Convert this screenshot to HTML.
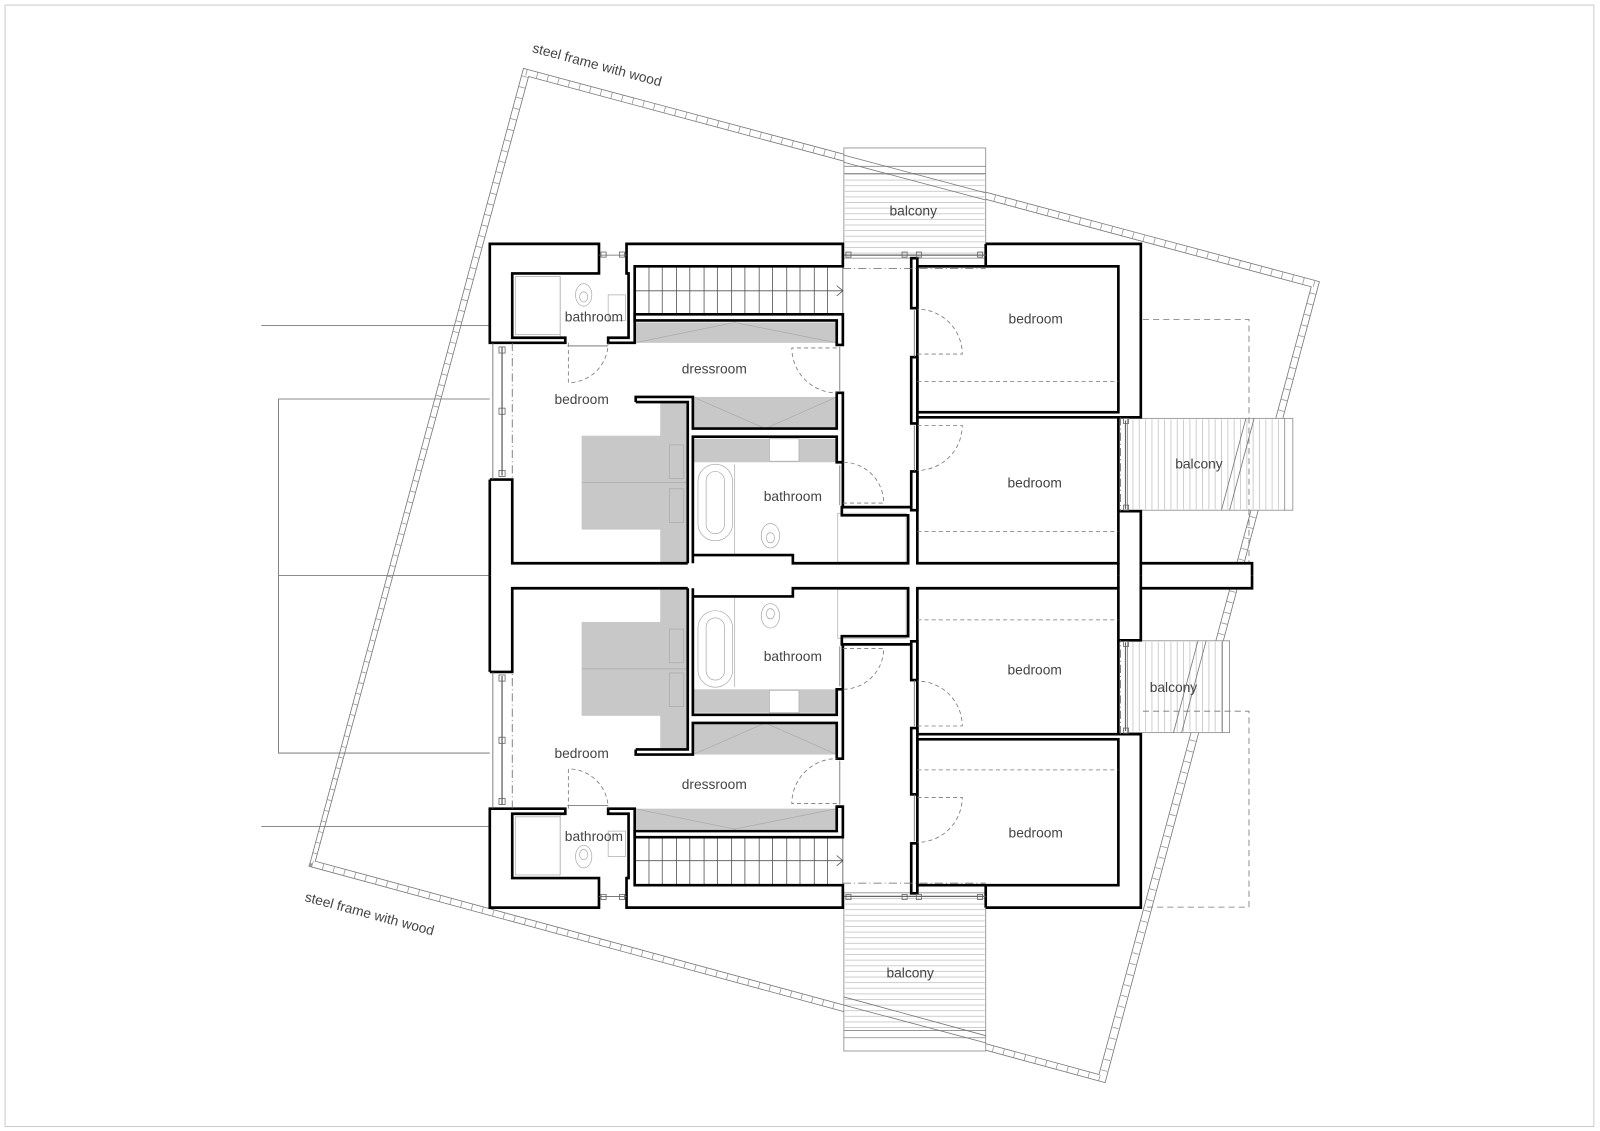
<!DOCTYPE html>
<html><head><meta charset="utf-8"><style>
html,body{margin:0;padding:0;background:#fff;}
svg{display:block;}
text{font-family:"Liberation Sans",sans-serif;font-size:13.5px;fill:#444;}
</style></head><body>
<svg width="1600" height="1131" viewBox="0 0 1568 1108.4" preserveAspectRatio="none" xmlns="http://www.w3.org/2000/svg">
<defs>
<pattern id="hh" width="10" height="5.5" patternUnits="userSpaceOnUse"><line x1="0" y1="0.5" x2="10" y2="0.5" stroke="#bbb" stroke-width="0.7"/></pattern>
<pattern id="vh" width="6.2" height="10" patternUnits="userSpaceOnUse"><line x1="0.5" y1="0" x2="0.5" y2="10" stroke="#bbb" stroke-width="0.7"/></pattern>
</defs>
<rect x="5" y="5" width="1557" height="1099" fill="none" stroke="#ccc" stroke-width="1"/>

<g stroke="#666" stroke-width="0.8" fill="none">
<line x1="256" y1="319" x2="480" y2="319"/>
<line x1="256" y1="810" x2="480" y2="810"/>
<path d="M480,391 H273 V738 H480"/>
<line x1="273" y1="564" x2="480" y2="564"/>
</g>

<g fill="none" stroke="#777" stroke-width="0.8">
<polygon points="513,67 1293,276 1083,1061 303,849"/>
<polygon points="518,75 1285,281 1077,1053 309,844"/>
<polygon points="515.5,71 1289,278.5 1080,1057 306,846.5" stroke="#999" stroke-width="6" stroke-dasharray="0.8 10"/>
</g>

<g stroke="#888" stroke-width="0.8">
<rect x="827" y="145" width="139" height="108" fill="#fff"/>
<rect x="828" y="170" width="137" height="83" fill="url(#hh)" stroke="none"/>
<line x1="827" y1="163" x2="966" y2="163"/><line x1="827" y1="170" x2="966" y2="170"/>
<rect x="827" y="875" width="139" height="155" fill="#fff"/>
<rect x="828" y="876" width="137" height="134" fill="url(#hh)" stroke="none"/>
<line x1="827" y1="1010" x2="966" y2="1010"/><line x1="827" y1="1017" x2="966" y2="1017"/>
<rect x="1105" y="410" width="162" height="90" fill="#fff"/>
<rect x="1106" y="411" width="152" height="88" fill="url(#vh)" stroke="none"/>
<line x1="1259" y1="410" x2="1259" y2="500"/>
<rect x="1105" y="628" width="100" height="90" fill="#fff"/>
<rect x="1106" y="629" width="92" height="88" fill="url(#vh)" stroke="none"/>
<line x1="1198" y1="628" x2="1198" y2="718"/>
</g>
<g fill="none" stroke="#777" stroke-width="0.8">
<line x1="827" y1="152" x2="966" y2="189"/><line x1="827" y1="159" x2="966" y2="196"/>
<line x1="827" y1="977" x2="966" y2="1015"/><line x1="827" y1="985" x2="966" y2="1022"/>
<line x1="1221" y1="410" x2="1197" y2="500"/><line x1="1229" y1="410" x2="1205" y2="500"/>
<line x1="1174" y1="628" x2="1150" y2="718"/><line x1="1182" y1="628" x2="1158" y2="718"/>
</g>

<g fill="none" stroke="#777" stroke-width="0.8" stroke-dasharray="6 4">
<path d="M1120,313 H1224 V552"/>
<path d="M1120,697 H1224 V889 H1120"/>
</g>

<rect x="1118" y="552" width="109" height="24.5" fill="#fff"/>

<g id="half">
<g fill="#c8c8c8" stroke="none">
<rect x="622" y="316" width="198" height="20"/>
<rect x="679" y="389" width="141" height="31"/>
<rect x="647" y="394" width="27" height="158"/>
<rect x="570" y="427" width="104" height="92"/>
<rect x="680" y="430" width="140" height="23"/>
</g>
<g fill="none" stroke="#aaa" stroke-width="0.7">
<line x1="622" y1="336" x2="720" y2="316"/><line x1="720" y1="316" x2="820" y2="336"/>
<line x1="679" y1="389" x2="750" y2="420"/><line x1="750" y1="420" x2="820" y2="389"/>
<line x1="570" y1="473" x2="674" y2="473"/>
<rect x="656" y="436" width="14" height="33"/><rect x="656" y="479" width="14" height="33"/>
<rect x="754" y="430" width="29" height="22" fill="#fff"/>
<rect x="684" y="455" width="34" height="75" rx="17"/>
<rect x="692" y="462" width="18" height="61" rx="9"/>
<line x1="720" y1="455" x2="720" y2="544"/>
<ellipse cx="755" cy="525" rx="9" ry="12"/><ellipse cx="755" cy="527" rx="4" ry="5"/>
<rect x="505" y="271" width="44" height="57"/><line x1="549" y1="271" x2="549" y2="331"/>
<ellipse cx="572" cy="289" rx="8" ry="11"/><ellipse cx="572" cy="291" rx="4" ry="5"/>
<rect x="596" y="289" width="17" height="25"/>
<rect x="821" y="503" width="67" height="48"/>
</g>
<g stroke="#555" stroke-width="0.8" fill="none">
<rect x="622" y="261" width="204" height="47"/>
<line x1="622" y1="285" x2="826" y2="285"/>
<path d="M636,261 V308 M649,261 V308 M663,261 V308 M676,261 V308 M690,261 V308 M703,261 V308 M717,261 V308 M730,261 V308 M744,261 V308 M757,261 V308 M771,261 V308 M784,261 V308 M798,261 V308 M811,261 V308"/>
<path d="M820,280 L826,285 L820,290"/>
</g>
<g fill="none" stroke="#000" stroke-width="2.6" stroke-linejoin="miter">
<path d="M480,239 H587 V268 H502 V331 H554 V336 H480 Z"/>
<path d="M614,239 H826 V261 H622 V336 H596 V331 H616 V268 H614 Z"/>
<path d="M622,308 H826 V338 H820 V314 H622 Z"/>
<path d="M623,394 V389 H679 V420 H820 V385 H826 V453"/>
<path d="M623,394 H674 V552"/>
<path d="M679,552 V428 H820 V453 H826"/>
<path d="M679,544 H777 V552 H890 V505 H825 V497 H893"/>
<path d="M826,453 V497"/>
<path d="M480,470 V564.3 M480,470 H502 V552 H674"/>
<rect x="893" y="253" width="6" height="49" fill="#fff"/>
<rect x="893" y="350" width="6" height="65" fill="#fff"/>
<rect x="893" y="462" width="6" height="38" fill="#fff"/>
<rect x="899" y="261" width="197" height="143"/>
<path d="M966,239 H1118 V409 H899 V552 H1096 V501 H1118 V552 H1227 V564.3"/>
<path d="M966,239 V261"/>
<path d="M1096,409 V501"/>
<path d="M1096,552 V564.3"/>
<path d="M1118,552 V564.3"/>
</g>
<g fill="none" stroke="#666" stroke-width="0.8">
<line x1="483" y1="336" x2="483" y2="470"/>
<line x1="492" y1="340" x2="492" y2="466" stroke-width="1.3"/>
<line x1="502" y1="336" x2="502" y2="470" stroke-dasharray="8 3 1 3"/>
<rect x="489" y="340" width="6" height="6"/><rect x="489" y="400" width="6" height="6"/><rect x="489" y="461" width="6" height="6"/>
<line x1="587" y1="250" x2="614" y2="250"/>
<rect x="589" y="247" width="5" height="5"/><rect x="607" y="247" width="5" height="5"/>
<line x1="556" y1="339" x2="596" y2="339"/>
<line x1="827" y1="250" x2="966" y2="250" stroke-width="1.2"/>
<line x1="826" y1="263" x2="966" y2="263" stroke-dasharray="8 3 1 3"/>
<rect x="829" y="247" width="5" height="5"/><rect x="884" y="247" width="5" height="5"/><rect x="898" y="247" width="5" height="5"/><rect x="958" y="247" width="5" height="5"/>
<line x1="1103" y1="412" x2="1103" y2="499" stroke-width="1.2"/>
<rect x="1101" y="410" width="5" height="5"/><rect x="1101" y="495" width="5" height="5"/>
<line x1="1098" y1="409" x2="1098" y2="501" stroke-dasharray="8 3 1 3"/>
<line x1="823" y1="340" x2="823" y2="383"/><line x1="823" y1="456" x2="823" y2="495"/>
<line x1="896" y1="304" x2="896" y2="350"/><line x1="896" y1="417" x2="896" y2="462"/>
</g>
<g fill="none" stroke="#777" stroke-width="0.8" stroke-dasharray="4 3">
<path d="M557,336 V375 A39,39 0 0 0 596,336"/>
<path d="M820,341 H776 A44,44 0 0 0 820,385"/>
<path d="M826,493 H866 A40,40 0 0 0 826,453"/>
<path d="M899,347 H943 A44,44 0 0 0 899,303"/>
<path d="M899,417 H943 A44,44 0 0 1 899,461"/>
<line x1="899" y1="374" x2="1096" y2="374"/>
<line x1="899" y1="521" x2="1096" y2="521"/>
</g>
</g>
<use href="#half" transform="matrix(1,0,0,-1,0,1128.5)"/>

<text x="895" y="211" text-anchor="middle">balcony</text>
<text x="582" y="315" text-anchor="middle">bathroom</text>
<text x="700" y="366" text-anchor="middle">dressroom</text>
<text x="570" y="396" text-anchor="middle">bedroom</text>
<text x="777" y="491" text-anchor="middle">bathroom</text>
<text x="1015" y="317" text-anchor="middle">bedroom</text>
<text x="1014" y="478" text-anchor="middle">bedroom</text>
<text x="1175" y="459" text-anchor="middle">balcony</text>
<text x="777" y="648" text-anchor="middle">bathroom</text>
<text x="1014" y="661" text-anchor="middle">bedroom</text>
<text x="1150" y="678" text-anchor="middle">balcony</text>
<text x="570" y="743" text-anchor="middle">bedroom</text>
<text x="700" y="773" text-anchor="middle">dressroom</text>
<text x="582" y="824" text-anchor="middle">bathroom</text>
<text x="1015" y="821" text-anchor="middle">bedroom</text>
<text x="892" y="958" text-anchor="middle">balcony</text>
<text x="521" y="51" transform="rotate(15 521 51)">steel frame with wood</text>
<text x="298" y="883" transform="rotate(15 298 883)">steel frame with wood</text>
</svg>
</body></html>
